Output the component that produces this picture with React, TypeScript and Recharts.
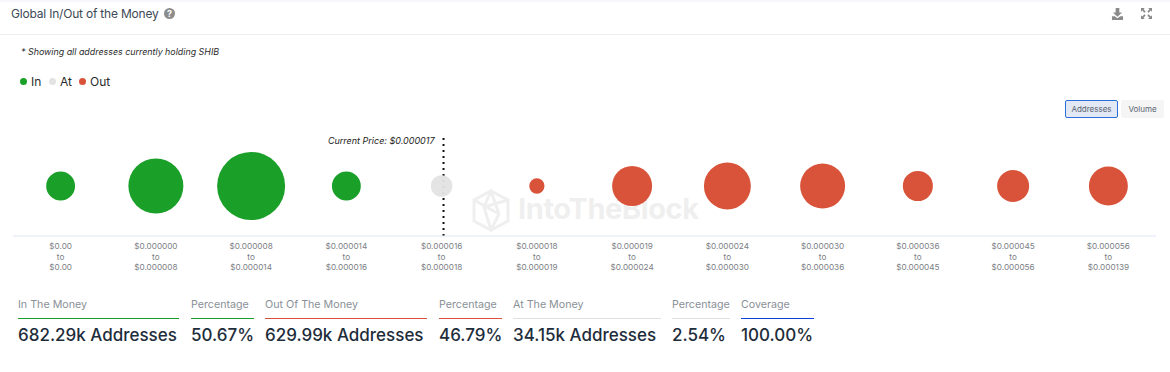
import React from 'react'
import { ScatterChart, Scatter, XAxis, YAxis, ZAxis, ReferenceLine } from 'recharts'

const rangeFrom = ['$0.00', '$0.000000', '$0.000008', '$0.000014', '$0.000016', '$0.000018', '$0.000019', '$0.000024', '$0.000030', '$0.000036', '$0.000045', '$0.000056']
const rangeTo = ['$0.00', '$0.000008', '$0.000014', '$0.000016', '$0.000018', '$0.000019', '$0.000024', '$0.000030', '$0.000036', '$0.000045', '$0.000056', '$0.000139']

// addresses per bucket, in thousands
const inBuckets = [0, 1, 2, 3]
const inValues = [61, 221, 338, 61]
const atBuckets = [4]
const atValues = [34]
const outBuckets = [5, 6, 7, 8, 9, 10, 11]
const outValues = [17, 117, 161, 148, 66, 75, 111]

const currentPriceBucket = 4.02

const stats = [
  { label: 'In The Money', value: '682.29k Addresses', left: 18, width: 161, color: '#1a9f29' },
  { label: 'Percentage', value: '50.67%', left: 191, width: 63, color: '#1a9f29' },
  { label: 'Out Of The Money', value: '629.99k Addresses', left: 265, width: 162, color: '#d9533a' },
  { label: 'Percentage', value: '46.79%', left: 439, width: 63, color: '#d9533a' },
  { label: 'At The Money', value: '34.15k Addresses', left: 513, width: 148, color: '#e0e0e0' },
  { label: 'Percentage', value: '2.54%', left: 672, width: 58, color: '#e0e0e0' },
  { label: 'Coverage', value: '100.00%', left: 741, width: 73, color: '#0b3fe0' },
]

const legend = [
  { name: 'In', color: '#1a9f29', left: 20 },
  { name: 'At', color: '#e3e3e3', left: 49 },
  { name: 'Out', color: '#d9533a', left: 79 },
]

const toPoints = (buckets: number[], values: number[]) =>
  buckets.map((bucket, i) => ({ bucket, y: 1, z: values[i] }))

const RangeTick = ({ x, y, payload }: any) => (
  <text x={x} textAnchor="middle" fontSize={8.2} fill="#7b8084" fontFamily="Inter">
    <tspan x={x} y={y + 5}>{rangeFrom[payload.value]}</tspan>
    <tspan x={x} y={y + 16}>to</tspan>
    <tspan x={x} y={y + 26}>{rangeTo[payload.value]}</tspan>
  </text>
)

const PriceLabel = ({ viewBox }: any) => (
  <text x={viewBox.x - 9} y={viewBox.y + 8} textAnchor="end" fontSize={9} fontStyle="italic" fill="#222" fontFamily="Inter">
    Current Price: $0.000017
  </text>
)

const Watermark = () => (
  <div style={{ position: 'absolute', left: 472, top: 189 }}>
    <svg width={38} height={43} viewBox="0 0 38 43" fill="none" stroke="#efefef" strokeWidth={3} style={{ position: 'absolute', left: 0, top: 0 }}>
      <path d="M19 2 L36 11 L36 32 L19 41 L2 32 L2 11 Z" />
      <path d="M19 2 L12 18 L19 41 L27 25 Z M2 11 L27 25 M36 11 L12 18" />
    </svg>
    <div style={{ position: 'absolute', left: 46, top: 2, fontSize: 29, fontWeight: 700, color: '#efefef', fontFamily: 'Inter', letterSpacing: -0.4, whiteSpace: 'nowrap' }}>
      IntoTheBlock
    </div>
  </div>
)

const App: React.FC = () => {
  return (
    <div style={{ position: 'relative', width: 1170, height: 372, background: '#fff', overflow: 'hidden', fontFamily: 'Inter' }}>
      <style>{'body{margin:0}'}</style>

      <div style={{ position: 'absolute', left: 0, top: 0, width: 1170, height: 2, background: '#f7f8fb' }} />
      <div style={{ position: 'absolute', left: 11, top: 6, fontSize: 12, color: '#3b4955', letterSpacing: -0.2, whiteSpace: 'nowrap' }}>Global In/Out of the Money</div>
      <div style={{ position: 'absolute', left: 164, top: 8, width: 11, height: 11, borderRadius: 6, background: '#8c8c8c', color: '#fff', fontSize: 9, fontWeight: 700, textAlign: 'center', lineHeight: '11px' }}>?</div>
      <div style={{ position: 'absolute', left: 0, top: 34, width: 1170, height: 1, background: '#eeeeee' }} />

      <svg width={13} height={12} viewBox="0 0 14 13" style={{ position: 'absolute', left: 1111, top: 8 }}>
        <path d="M5 0 H9 V5 H12 L7 9.5 L2 5 H5 Z M1 9 H4 L7 11 L10 9 H13 V13 H1 Z" fill="#8a8a8a" />
      </svg>
      <svg width={11} height={11} viewBox="0 0 13 13" style={{ position: 'absolute', left: 1141, top: 8 }}>
        <path d="M0 0 H4.5 L3 1.5 L5.5 4 L4 5.5 L1.5 3 L0 4.5 Z M13 0 V4.5 L11.5 3 L9 5.5 L7.5 4 L10 1.5 L8.5 0 Z M0 13 V8.5 L1.5 10 L4 7.5 L5.5 9 L3 11.5 L4.5 13 Z M13 13 H8.5 L10 11.5 L7.5 9 L9 7.5 L11.5 10 L13 8.5 Z" fill="#8a8a8a" />
      </svg>

      <div style={{ position: 'absolute', left: 21, top: 46, fontSize: 8.9, fontStyle: 'italic', color: '#2b2b2b', whiteSpace: 'nowrap' }}>* Showing all addresses currently holding SHIB</div>

      {legend.map(item => (
        <div key={item.name} style={{ position: 'absolute', left: item.left, top: 73, height: 16, display: 'flex', alignItems: 'center', fontSize: 12, color: '#2b2b2b' }}>
          <span style={{ width: 7, height: 7, borderRadius: 4, background: item.color, marginRight: 4 }} />
          {item.name}
        </div>
      ))}

      <div style={{ position: 'absolute', left: 1065, top: 100, width: 53, height: 18, boxSizing: 'border-box', border: '1px solid #2a6fdc', borderRadius: 2, background: '#e2e8f4', fontSize: 8, color: '#5a6472', textAlign: 'center', lineHeight: '16px' }}>Addresses</div>
      <div style={{ position: 'absolute', left: 1121, top: 100, width: 43, height: 18, borderRadius: 2, background: '#f5f5f5', fontSize: 8, color: '#5a6472', textAlign: 'center', lineHeight: '18px' }}>Volume</div>

      <Watermark />

      <div style={{ position: 'absolute', left: 0, top: 0 }}>
        <ScatterChart width={1170} height={290} margin={{ top: 136, right: 14, bottom: 0, left: 13 }}>
          <XAxis
            type="number"
            dataKey="bucket"
            domain={[-0.5, 11.5]}
            ticks={inBuckets.concat(atBuckets, outBuckets)}
            interval={0}
            tick={<RangeTick />}
            tickLine={false}
            axisLine={{ stroke: '#dfe5f2' }}
            height={54}
          />
          <YAxis type="number" dataKey="y" domain={[0, 2]} hide />
          <ZAxis type="number" dataKey="z" domain={[0, 338]} range={[0, 3632]} />
          <ReferenceLine x={currentPriceBucket} stroke="#111" strokeWidth={2} strokeDasharray="2 4" label={<PriceLabel />} />
          <Scatter data={toPoints(inBuckets, inValues)} fill="#1a9f29" isAnimationActive={false} />
          <Scatter data={toPoints(atBuckets, atValues)} fill="#e3e3e3" fillOpacity={0.95} isAnimationActive={false} />
          <Scatter data={toPoints(outBuckets, outValues)} fill="#d9533a" isAnimationActive={false} />
        </ScatterChart>
      </div>

      {stats.map((stat, i) => (
        <div key={i} style={{ position: 'absolute', left: stat.left, top: 298, width: stat.width }}>
          <div style={{ height: 19.5, boxSizing: 'content-box', borderBottom: `1px solid ${stat.color}`, fontSize: 10.7, color: '#8a9097', lineHeight: '14px', whiteSpace: 'nowrap' }}>{stat.label}</div>
          <div style={{ marginTop: 6, fontSize: 17, fontWeight: 500, color: '#1e2d3b', lineHeight: '20px', whiteSpace: 'nowrap' }}>{stat.value}</div>
        </div>
      ))}
    </div>
  )
}

export default App
